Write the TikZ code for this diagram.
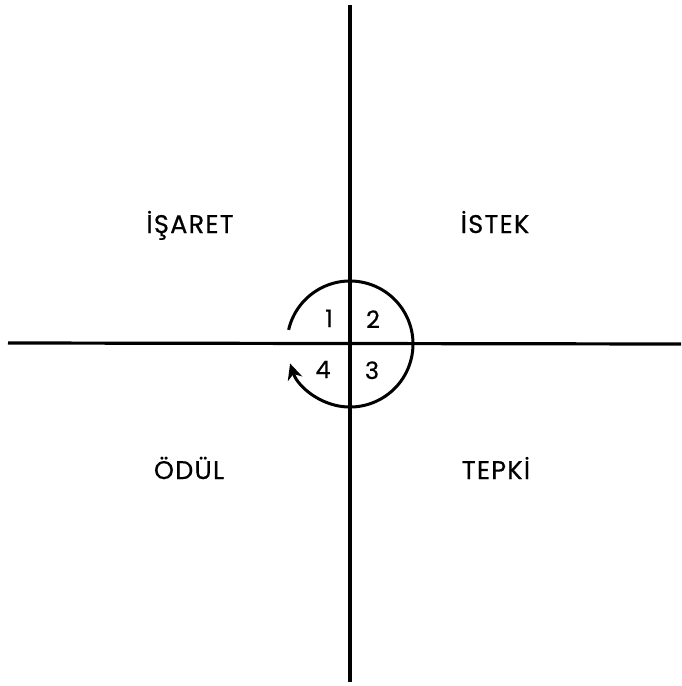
\documentclass[tikz,border=0pt]{standalone}
\usepackage{fontspec}
\setmainfont{Poppins}
\usetikzlibrary{arrows.meta,calc}
\begin{document}
\begin{tikzpicture}[x=1pt,y=-1pt,
  lbl/.style={font=\fontsize{25.5}{25.5}\selectfont\addfontfeatures{LetterSpace=5,FakeBold=0.6}, inner sep=0pt, anchor=base},
  num/.style={font=\fontsize{24}{24}\selectfont\addfontfeatures{FakeBold=0.4}, inner sep=0pt, anchor=base},
  axis/.style={line width=3.2pt, line cap=butt},
  cycle/.style={line width=3pt}]
\useasboundingbox[fill=white] (0,0) rectangle (681,686);
\coordinate (top) at (350,5);
\coordinate (bottom) at (350,682);
\coordinate (left) at (8,343);
\coordinate (right) at (681,344);
\draw[axis] (top) -- (bottom);
\draw[axis] (left) -- (right);
\coordinate (c) at (350,344);
\coordinate (arcstart) at ($(c)+(-167:63)$);
\draw[cycle,-{Stealth[length=16pt,width=15pt,inset=5pt]}] (arcstart) arc[start angle=-167,end angle=162,radius=63];
\node[lbl] (isaret) at (190,233) {İŞARET};
\node[lbl] (istek) at (495,233) {İSTEK};
\node[lbl] (odul) at (189,479) {ÖDÜL};
\node[lbl] (tepki) at (496,479) {TEPKİ};
\node[num] (n1) at (329,327) {1};
\node[num] (n2) at (373,328) {2};
\node[num] (n4) at (323,378) {4};
\node[num] (n3) at (372,379) {3};
\end{tikzpicture}
\end{document}
